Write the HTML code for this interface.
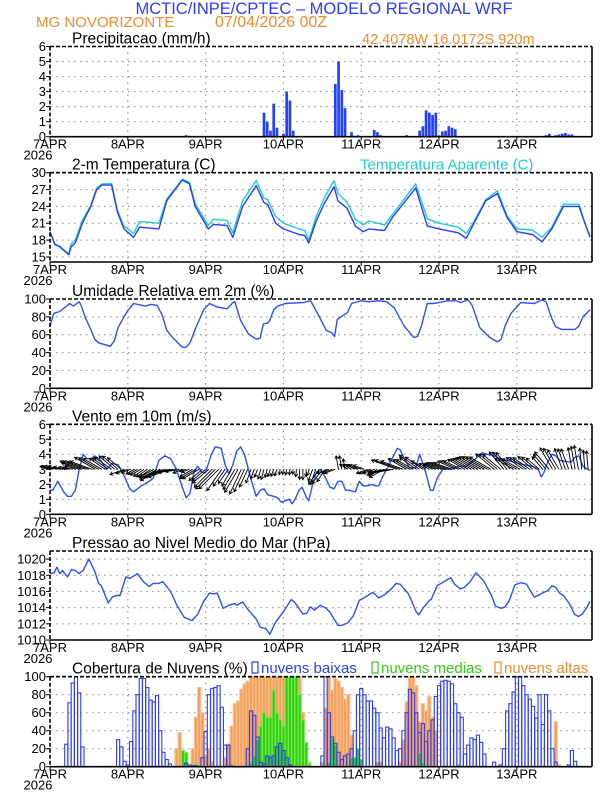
<!DOCTYPE html>
<html><head><meta charset="utf-8"><style>
html,body{margin:0;padding:0;background:#fff;}
svg{display:block;font-family:"Liberation Sans Narrow","Liberation Sans",sans-serif;}
</style></head><body>
<svg id="chart" width="612" height="792" viewBox="0 0 612 792" xmlns="http://www.w3.org/2000/svg">
<text x="324" y="14" text-anchor="middle" font-size="16.5" fill="#2b3cff" font-family="Liberation Sans, sans-serif">MCTIC/INPE/CPTEC – MODELO REGIONAL WRF</text>
<text x="36" y="27" font-size="15" fill="#f08a30" font-family="Liberation Sans, sans-serif">MG NOVORIZONTE</text>
<text x="215" y="27" font-size="16" fill="#f08a30" font-family="Liberation Sans, sans-serif">07/04/2026 00Z</text>
<text x="362" y="44" font-size="14.5" fill="#f08a30" font-family="Liberation Sans, sans-serif">42.4078W 16.0172S 920m</text>
<g id="g"></g>
</svg>
<script>
// ---------- DATA ----------
const dayLabels = ["7APR","8APR","9APR","10APR","11APR","12APR","13APR"];
const precipHours = [42,66,67,68,69,70,72,73,74,75,88,89,90,91,93,95,100,101,102,110,114,115,116,117,118,119,120,121,122,123,124,125,153,154,156,157,158,159,160,161,162];
const precipVals  = [0.1,1.6,1.0,0.4,2.2,0.6,0.2,3.0,2.4,0.4,3.5,5.0,3.1,1.9,0.3,0.1,0.45,0.3,0.1,0.1,0.4,0.7,1.75,1.6,1.45,1.6,0.1,0.35,0.4,0.7,0.6,0.5,0.1,0.2,0.1,0.15,0.2,0.25,0.15,0.15,0.05];

const tempHours = [0,1.5,3,5.8,6.5,7.8,10,12.6,14.4,16,19,20.8,22.8,25.8,27.6,33.6,36,40.8,43,44.8,48.8,50.4,54.6,56.4,59.4,63.6,66,67.2,69.6,72,76.8,78.6,79.8,82.2,84.6,87.6,88.8,91.6,94.2,96.6,98.4,103.2,105.6,112.8,116.4,120,126,128.4,130.8,134.4,138,141,144,148.8,151.8,154.8,158.4,163.2,165,166.6];
const tempVals  = [19.5,17.2,16.8,15.4,16.8,17.5,21,24,27,27.8,27.8,23,20,18.5,20.3,20,25,28.7,28,24,20,20.8,20.6,18.5,24,27.7,24.7,24.3,21,20,19,18.8,17.5,21.5,24.5,27.5,25,23.7,20.5,19.5,20,19.7,22,27.3,20.5,20,19.3,18.3,21,25,26.3,22,19.5,19,17.7,20,24,24,21,18.5];
const apparentVals = [19.5,17.3,16.9,15.5,17.3,18,21.5,24.2,27.3,28,28.1,23.3,20.5,19.2,21.3,21,25.3,28.8,28.3,24.5,20.6,21.7,21.5,19.3,25,28.6,25.5,25.2,22.2,21,20,19.7,18,22.3,25.5,28.6,26.3,24.8,21.7,20.7,21.4,20.7,22.5,28,21.8,21,20.3,19.2,21.3,25.2,26.8,22.3,20,19.8,18.5,20.3,24.4,24.4,21,18.7];

const rhHours = [0,1.2,3,5.4,6,7.2,9,9.6,11,12.6,13.8,15,18.6,19.8,21,22.8,24,25.8,29.4,31.2,33,34.6,36,37.8,40.8,42,43.2,45,47.4,49.2,51.6,54.6,56.4,57,58.8,61.2,63.6,64.8,65.8,67.2,67.8,69,70.2,72.6,78,80.4,82.8,85.2,87,87.8,88.6,90.6,91.8,93,96,98.4,101.4,103.8,106.2,109.2,112.2,113.4,114.6,116.4,118.2,120,122.4,125.4,126.6,129,130.2,132.6,135.6,138,139.2,140.4,142.2,145.2,149.4,151.8,153,154.8,156,157.8,162,163.2,164.4,166.6];
const rhVals  = [70,84,86,93,95,92,97,93,78,66,55,51,47,53,68,80,87,95,92,94,93,82,65,57,46,46,51,68,88,95,91,89,96,97,76,61,55,56,72,73,76,88,92,95,96,98,82,65,62,58,77,82,85,95,98,97,98,97,90,70,57,58,70,95,95,96,98,98,96,99,93,68,57,52,55,70,84,96,95,99,97,78,69,66,66,70,80,88];

const windHours = [0,0.84,2.4,4.2,5.4,6.6,7.8,9,10.2,11.4,12.6,13.8,15.6,17.4,19.2,21,22.8,24.6,25.8,28.2,30.6,31.8,33.6,35.4,37.2,39,40.8,42,43.2,44.4,45.6,46.8,48,49.8,51,52.8,54,55.2,56.4,57.6,58.8,60,61.8,63.6,64.8,66,67.2,69,70.2,71.4,72.6,73.8,74.64,75.6,76.8,77.76,79.2,79.8,81,82.2,83.4,84.6,86.4,87.6,88.8,90,91.2,92.4,94.2,95.4,96.6,97.8,99.36,100.2,101.4,102.6,104.4,106.2,107.16,108,109.8,111,112.8,114,115.2,116.4,117.36,118.2,119.4,121.2,123.6,126,128.4,130.8,133.2,135,136.8,139.2,141,142.8,144.6,146.4,148.8,150.6,151.56,152.4,153.6,154.8,156,157.2,159.6,160.8,162,163.2,164.4,166.56];
const windVals  = [1.6,1.6,2.2,1.5,1.2,1.2,1.6,3,4,3.7,3.7,3.9,3.6,3,3.4,3.3,2.6,1.7,1.5,1.9,2.2,2.4,3.6,3.9,3.7,3,1.8,1.1,1.4,2.8,3.2,2.8,2.8,4,4.5,4.4,3.3,2.7,3.3,4.2,4.5,4,2.5,1.2,1.6,1.7,1.3,1.2,1.1,0.8,0.9,1,0.7,1,1.6,1.8,1.1,0.9,2,2.8,3,2.6,1.8,1.7,2.2,2.2,1.6,1.6,1.5,2.2,1.9,1.9,2,1.9,1.9,2.5,3.2,4,4.4,4.3,3.5,3.1,3.1,4,3.3,2.4,1.6,1.6,2.4,3,3,3.2,3.2,3.6,4.1,4,3.9,3.7,3.6,3.5,3.4,3.3,3.2,3,2.5,2.8,3.5,4,3.9,3.6,3.5,3.5,3.8,3.9,3.2,2.9];
// direction the arrow points (deg, 0=east, 90=north), every 3 h from 0 to 165
const windDir = [165,165,165,160,160,150,145,140, 200,210,215,210,200,190,200,210, 220,225,235,240,245,250,255,250, 260,265,270,250,235,200,100,150, 160,200,210,190,160,150,145,150, 160,160,155,150,150,150,140,130, 150,145,140,130,120,110,100,95];

const presHours = [0,1.2,2.16,3,3.84,5.4,6.6,7.8,9,10.2,12,13.8,15,15.84,18,19.2,20.4,21.6,23.4,24.6,27,28.8,30.6,31.8,33.6,34.8,37.2,39,41.4,43.8,45.6,47.4,49.2,50.4,51.6,53.4,55.2,57,57.6,59.4,61.2,63.6,64.8,66.6,67.8,69.6,72,74.4,75.6,78,79.2,80.4,81.6,83.4,85.2,86.4,88.8,90,91.8,93.6,95.4,97.2,99.6,101.4,103.2,105,106.8,108,110.4,111.6,112.8,113.76,115.2,117,117.6,119.4,123.6,124.8,126.6,127.8,129.6,131.4,133.8,135,136.2,137.4,139.2,140.4,141.6,143.4,145.2,147,149.4,150.6,151.8,153.6,154.8,156,157.2,158.4,160.2,161.76,162.96,164.16,165.6,166.56];
const presVals  = [1018.2,1018.3,1019,1018.2,1018.6,1017.8,1018.7,1018.6,1018.2,1018.6,1020,1018.5,1017,1016.7,1014.6,1015.3,1015.5,1015.5,1017.8,1017.6,1018.2,1017.2,1016.6,1017,1017,1017.2,1016,1014.4,1012.8,1012.4,1013.2,1014.8,1015.8,1015.7,1015.8,1013.9,1014.3,1014.5,1014.3,1014.7,1013.7,1012.6,1011.6,1011.4,1010.7,1012.2,1013.5,1015,1014.6,1013.2,1013.3,1014.1,1013.7,1014.3,1013.9,1013.4,1011.8,1011.8,1012.1,1013,1014.9,1015.3,1015.9,1015.2,1015.6,1016.2,1017,1016.9,1015.8,1014.8,1013.6,1013.1,1014,1014.9,1015,1016.7,1017.7,1016.9,1016.3,1016.5,1017.2,1018.3,1017.3,1016.4,1015.5,1014.2,1013.9,1014.1,1014.8,1016.8,1017.1,1016.9,1015.3,1015.5,1015.8,1016.1,1016.7,1016.5,1015.8,1015.5,1014.5,1013.2,1012.9,1013.2,1014,1014.8];

// hourly cloud cover, hours 0..167
const lowCloud = [0,0,0,0,0,25,71,93,100,82,22,0,0,0,0,0,0,0,0,0,0,30,22,6,2,28,62,80,98,98,88,74,72,79,40,16,8,3,0,0,0,0,4,2,1,1,0,10,39,80,87,88,90,66,24,24,1,0,0,0,0,20,62,57,33,5,3,12,10,12,22,26,18,10,2,0,0,0,0,0,0,0,0,0,12,100,60,33,26,16,8,12,14,20,40,80,87,80,73,73,65,60,43,32,44,42,32,18,20,40,60,86,82,60,38,48,28,40,52,78,90,95,96,95,92,70,60,55,14,24,32,30,35,27,14,0,0,5,0,2,20,62,70,83,100,100,90,80,75,67,54,80,47,80,62,20,5,0,0,0,2,18,6,0,0,0];
const midCloud = [0,0,0,0,0,0,0,0,0,0,0,0,0,0,0,0,0,0,0,0,0,0,0,0,0,0,0,0,0,0,0,0,0,0,0,0,0,0,0,0,0,18,16,0,0,3,0,0,0,0,0,0,0,0,0,0,0,0,0,0,0,0,5,12,30,45,60,55,55,85,60,52,45,100,100,100,100,80,52,27,3,0,0,0,0,0,5,32,25,0,0,0,0,10,10,20,8,0,0,0,0,0,0,0,0,0,0,0,0,0,0,0,0,0,15,5,0,0,0,0,0,0,0,0,0,0,2,0,0,0,0,0,0,0,0,0,0,0,0,0,0,0,0,0,0,0,0,0,0,0,0,0,0,0,0,0,0,0,0,0,0,0,0,0];
const highCloud = [0,0,0,0,0,0,0,0,0,0,0,0,0,0,0,0,0,0,0,0,0,0,0,0,0,0,0,0,0,0,0,0,0,0,0,0,0,0,0,20,38,5,0,0,20,55,88,60,12,20,5,0,0,0,10,25,45,70,73,86,92,95,100,100,100,100,100,100,100,100,100,100,100,100,100,100,100,100,60,20,5,0,0,0,5,65,100,85,98,95,88,75,80,35,0,0,0,0,0,0,0,5,5,0,0,0,0,0,5,30,72,100,100,90,50,70,62,78,55,40,0,0,0,0,0,0,0,0,0,0,0,0,0,0,0,0,0,0,0,0,0,0,0,0,0,0,0,0,0,0,0,0,0,0,0,0,50,2,0,0,0,0,0,0,0,0,0,0,0,0];

// ---------- RENDER ----------
const NS = "http://www.w3.org/2000/svg";
const G = document.getElementById("g");
const X0 = 50, HOURPX = 77.8/24, X1 = 592;
const xOf = h => X0 + h*HOURPX;
function el(tag, attrs, parent){ const e=document.createElementNS(NS,tag); for(const k in attrs) e.setAttribute(k,attrs[k]); (parent||G).appendChild(e); return e; }

function panel(name, top, bottom, ymin, ymax, ticks, title){
  const g = el("g",{});
  
  
  const yOf = v => bottom - (v-ymin)/(ymax-ymin)*(bottom-top);
  ticks.forEach(t=>{ const y=yOf(t); if(y>top+1 && y<bottom-1){ const l=el("line",{x1:X0,x2:X1,y1:y,y2:y,stroke:"#999","stroke-width":1.2,"stroke-dasharray":"1.5,4.5"},g);
    
     } });
  for(let d=1; d<7; d++){ const x=xOf(d*24); const l=el("line",{x1:x,x2:x,y1:top,y2:bottom,stroke:"#999","stroke-width":1.2,"stroke-dasharray":"1.5,4.5"},g);
    
     }
  ticks.forEach(t=>{ const y=yOf(t);
    const tx=el("text",{x:46,y:y+4.5,"text-anchor":"end","font-size":13,fill:"#000"},g); tx.textContent=t;
    
    
    const tk=el("line",{x1:X0-4,x2:X0,y1:y,y2:y,stroke:"#000","stroke-width":1},g);
    
     });
  dayLabels.forEach((lab,i)=>{ const x=xOf(i*24);
    const tk=el("line",{x1:x,x2:x,y1:bottom,y2:bottom+4,stroke:"#000","stroke-width":1},g);
    
    
    const tx=el("text",{x:x,y:bottom+12,"text-anchor":"middle","font-size":13,fill:"#000"},g); tx.textContent=lab;
    
     });
  const yr=el("text",{x:X0-12,y:bottom+23,"text-anchor":"middle","font-size":13,fill:"#000"},g); yr.textContent="2026";
  
  
  const tt=el("text",{x:72,y:top-3,"font-size":15.5,fill:"#000","font-family":"Liberation Sans, sans-serif"},g); tt.textContent=title;
  
  
  const plot = el("g",{},g);
  
  
  return {g, plot, yOf, top, bottom};
}
function frame(p, name){
  const a=el("line",{x1:X0,x2:X1,y1:p.top,y2:p.top,stroke:"#000","stroke-width":1.6,"stroke-dasharray":"4,2"},p.g);
   
  const b=el("line",{x1:X0,x2:X0,y1:p.top,y2:p.bottom,stroke:"#000","stroke-width":1.6,"stroke-dasharray":"4,2"},p.g);
   
  const c=el("line",{x1:X0,x2:X1,y1:p.bottom,y2:p.bottom,stroke:"#000","stroke-width":1.6},p.g);
   
  const d=el("line",{x1:X1,x2:X1,y1:p.top,y2:p.bottom,stroke:"#000","stroke-width":1.6},p.g);
   
}
function line(p, hours, vals, color, name){
  const pts = hours.map((h,i)=>xOf(h).toFixed(1)+","+p.yOf(vals[i]).toFixed(1)).join(" ");
  const pl = el("polyline",{points:pts,fill:"none",stroke:color,"stroke-width":1.4,"stroke-linejoin":"round"},p.plot);
  
  
}
function interp(hours, vals, h){
  for(let i=1;i<hours.length;i++){ if(h<=hours[i]){ const t=(h-hours[i-1])/(hours[i]-hours[i-1]); return vals[i-1]+t*(vals[i]-vals[i-1]); } }
  return vals[vals.length-1];
}

const P1 = panel("precipitation",46.5,136.7,0,6,[0,1,2,3,4,5,6],"Precipitacao (mm/h)");
precipHours.forEach((h,i)=>{ const y=P1.yOf(precipVals[i]);
  const r=el("rect",{x:xOf(h)-1.3,y:y,width:2.7,height:P1.bottom-y,fill:"#2440ff"},P1.plot);
  
   });
frame(P1,"precipitation");

const P2 = panel("temperature",172.7,262,14.1,30,[15,18,21,24,27,30],"2-m Temperatura (C)");
const at=el("text",{x:360,y:169.7,"font-size":15,fill:"#1ccfc9","font-family":"Liberation Sans, sans-serif"},P2.g); at.textContent="Temperatura Aparente (C)";


line(P2,tempHours,apparentVals,"#1ccfc9","apparent-temperature-line");
line(P2,tempHours,tempVals,"#2b3cff","temperature-line");
frame(P2,"temperature");

const P3 = panel("humidity",299,388.3,0,100,[0,20,40,60,80,100],"Umidade Relativa em 2m (%)");
line(P3,rhHours,rhVals,"#2b50ff","humidity-line");
frame(P3,"humidity");

const P4 = panel("wind",424.3,514.3,0,6,[0,1,2,3,4,5,6],"Vento em 10m (m/s)");
line(P4,windHours,windVals,"#2b50ff","wind-speed-line");
for(let h=0; h<=166; h++){
  const dir = windDir[Math.min(windDir.length-1, Math.round(h/3))]*Math.PI/180;
  const sp = interp(windHours,windVals,h);
  const L = sp*6.2;
  const x0=xOf(h), y0=P4.yOf(3);
  const x1=x0+L*Math.cos(dir), y1=y0-L*Math.sin(dir);
  const ah=3.5, a1=dir+Math.PI*0.83, a2=dir-Math.PI*0.83;
  const d=`M${x0.toFixed(1)},${y0.toFixed(1)}L${x1.toFixed(1)},${y1.toFixed(1)}M${(x1+ah*Math.cos(a1)).toFixed(1)},${(y1-ah*Math.sin(a1)).toFixed(1)}L${x1.toFixed(1)},${y1.toFixed(1)}L${(x1+ah*Math.cos(a2)).toFixed(1)},${(y1-ah*Math.sin(a2)).toFixed(1)}`;
  const pa=el("path",{d:d,fill:"none",stroke:"#000","stroke-width":0.9},P4.plot);
  
  
}
frame(P4,"wind");

const P5 = panel("pressure",551,640,1010,1021,[1010,1012,1014,1016,1018,1020],"Pressao ao Nivel Medio do Mar (hPa)");
line(P5,presHours,presVals,"#2b50ff","pressure-line");
frame(P5,"pressure");

const P6 = panel("cloud-cover",676.7,766.7,0,100,[0,20,40,60,80,100],"Cobertura de Nuvens (%)");
function bars(arr, fill, stroke, name){
  arr.forEach((v,h)=>{ if(v<=0) return; const y=P6.yOf(v);
    const r=el("rect",{x:xOf(h)-1.5,y:y,width:3.1,height:P6.bottom-y,fill:fill,stroke:stroke,"stroke-width":1.1},P6.plot);
    
     });
}
bars(highCloud,"#f5a05a","#f8c090","high-cloud-bar");
bars(midCloud,"#33cc11","#77ee55","mid-cloud-bar");
bars(lowCloud,"none","#2b3cff","low-cloud-bar");
frame(P6,"cloud-cover");
const leg=[["nuvens baixas","#2b3cff",252],["nuvens medias","#33cc11",372],["nuvens altas","#f08a30",495]];
leg.forEach(([t,c,x])=>{
  const g=el("g",{},P6.g);
  
  
  el("rect",{x:x,y:662,width:6,height:11,fill:"none",stroke:c,"stroke-width":1.2},g);
  const tx=el("text",{x:x+9,y:673,"font-size":15,fill:c,"font-family":"Liberation Sans, sans-serif"},g); tx.textContent=t;
});
</script>
</body></html>
